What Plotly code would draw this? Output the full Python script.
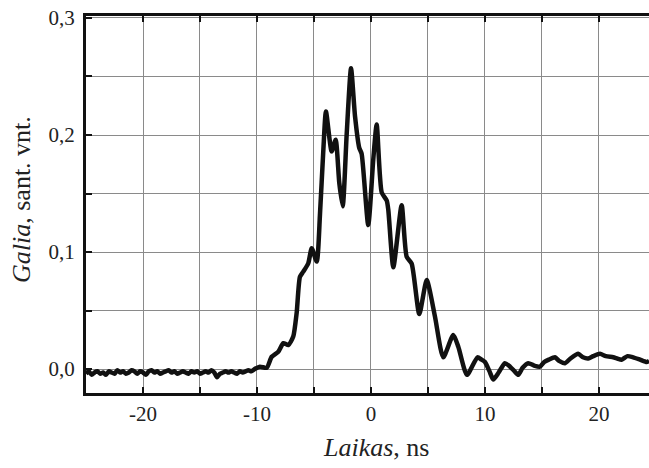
import plotly.graph_objects as go

# Baseline samples (ns) from -25 to -10.75, step 0.25
baseline_t = [-25 + 0.25 * i for i in range(58)]
baseline_p = [-0.004, -0.002, -0.005, -0.003, -0.002, -0.004, -0.003, -0.005, -0.002, -0.003,
              -0.004, -0.001, -0.003, -0.002, -0.004, -0.003, -0.001, -0.002, -0.004, -0.002,
              -0.003, -0.005, -0.002, -0.001, -0.003, -0.002, -0.004, -0.003, -0.002, -0.001,
              -0.003, -0.002, -0.004, -0.003, -0.002, -0.003, -0.004, -0.002, -0.003, -0.002,
              -0.004, -0.003, -0.002, -0.003, -0.001, -0.003, -0.007, -0.004, -0.003, -0.002,
              -0.003, -0.002, -0.003, -0.004, -0.002, -0.003, -0.002, -0.001]

# Pulse and tail
pulse_t = [-10.5, -10.2, -9.74, -9.15, -8.71, -8.13, -7.69, -7.25, -6.82, -6.52, -6.23, -5.94,
           -5.50, -5.20, -4.76, -4.47, -4.18, -3.95, -3.45, -3.10, -2.78, -2.48, -2.13, -1.75,
           -1.40, -1.03, -0.82, -0.24, 0.20, 0.50, 0.94, 1.38, 1.52, 1.96, 2.69, 3.13, 3.57,
           4.24, 4.89, 5.61, 6.34, 7.22, 7.66, 8.42, 9.34, 9.7, 10.0, 10.4, 10.73, 11.2, 11.75,
           12.2, 12.6, 12.92, 13.3, 13.8, 14.3, 14.82, 15.2, 15.6, 16.14, 16.5, 17.02, 17.5,
           18.18, 18.6, 19.06, 19.5, 20.09, 20.6, 21.25, 21.6, 21.99, 22.5, 23.0, 23.6, 24.18, 24.4]
pulse_p = [-0.002, 0.000, 0.002, 0.001, 0.0105, 0.0148, 0.0221, 0.0205, 0.0277, 0.0479, 0.0789, 0.0832,
           0.0904, 0.1032, 0.0918, 0.1329, 0.187, 0.220, 0.186, 0.196, 0.159, 0.139, 0.201, 0.257,
           0.216, 0.189, 0.184, 0.123, 0.179, 0.209, 0.151, 0.144, 0.136, 0.087, 0.140, 0.096, 0.090,
           0.047, 0.076, 0.045, 0.010, 0.029, 0.019, -0.005, 0.010, 0.008, 0.006, -0.002, -0.009, -0.003, 0.005,
           0.002, -0.002, -0.005, 0.001, 0.005, 0.003, 0.002, 0.006, 0.008, 0.010, 0.007, 0.005, 0.009,
           0.013, 0.010, 0.009, 0.011, 0.013, 0.011, 0.010, 0.009, 0.008, 0.011, 0.010, 0.008, 0.006, 0.007]

time_ns = baseline_t + pulse_t
power = baseline_p + pulse_p

x_tickvals = [-25, -20, -15, -10, -5, 0, 5, 10, 15, 20]
x_ticktext = ["", "-20", "", "-10", "", "0", "", "10", "", "20"]
y_tickvals = [0.0, 0.05, 0.1, 0.15, 0.2, 0.25, 0.3]
y_ticktext = ["0,0", "", "0,1", "", "0,2", "", "0,3"]

FONT = "Liberation Serif, Times New Roman, serif"
TICK = dict(family=FONT, size=21, color="#222222")
TITLE = dict(family=FONT, size=26, color="#222222")

fig = go.Figure()
fig.add_trace(go.Scatter(x=time_ns, y=power, mode="lines",
                         line=dict(color="#111111", width=4.5, shape="spline", smoothing=0.6),
                         showlegend=False, hoverinfo="skip"))

fig.update_layout(
    width=649, height=468,
    margin=dict(l=86, r=0, t=16, b=75),
    paper_bgcolor="white", plot_bgcolor="white",
    font=dict(family=FONT, size=21, color="#222222"),
    xaxis=dict(range=[-25, 24.39], tickvals=x_tickvals, ticktext=x_ticktext,
               showgrid=True, gridcolor="#8a8a8a", gridwidth=1, zeroline=False,
               showline=True, linecolor="#111111", linewidth=3, mirror="ticks",
               ticks="inside", ticklen=6, tickwidth=2, tickcolor="#111111",
               tickfont=TICK),
    yaxis=dict(range=[-0.0205, 0.3017], tickvals=y_tickvals, ticktext=y_ticktext,
               showgrid=True, gridcolor="#8a8a8a", gridwidth=1, zeroline=False,
               showline=True, linecolor="#111111", linewidth=3,
               ticks="inside", ticklen=6, tickwidth=2, tickcolor="#111111",
               ticklabelstandoff=4, tickfont=TICK),
    annotations=[
        dict(text="<i>Laikas</i>, ns", xref="paper", yref="paper",
             x=(376 - 86) / 563, y=(393 - 447) / 377, xanchor="center", yanchor="middle",
             showarrow=False, font=TITLE),
        dict(text="<i>Galia</i>, sant. vnt.", xref="paper", yref="paper",
             x=(22 - 86) / 563, y=(393 - 200) / 377, xanchor="center", yanchor="middle",
             textangle=-90, showarrow=False, font=TITLE),
    ],
)

fig.write_html("out.html")
